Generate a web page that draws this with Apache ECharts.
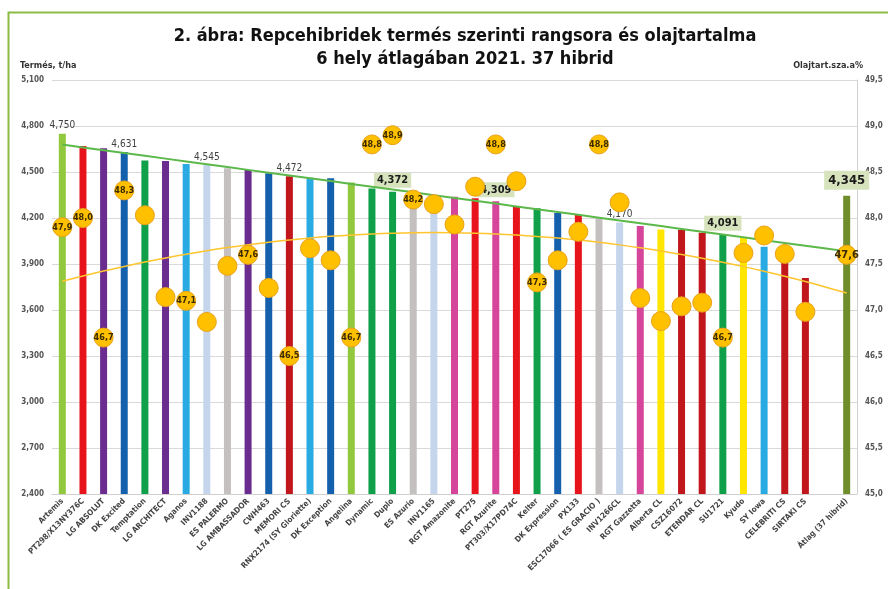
<!DOCTYPE html>
<html>
<head>
<meta charset="utf-8">
<title>Repcehibridek termés szerinti rangsora</title>
<script src="https://cdn.jsdelivr.net/npm/echarts@6/dist/echarts.min.js"></script>
<style>
  html, body { margin: 0; padding: 0; background: #fff; }
  #chart { width: 888px; height: 589px; }
</style>
</head>
<body>
<div id="chart"></div>
<script>
// categories (37 hybrids, an empty slot, then the average)
const hybrids = [
  'Artemis', 'PT298/X13NY376C', 'LG ABSOLUT', 'DK Excited', 'Temptation', 'LG ARCHITECT',
  'Aganos', 'INV1188', 'ES PALERMO', 'LG AMBASSADOR', 'CWH463', 'MEMORI CS',
  'RNX2174 (SY Gloriette)', 'DK Exception', 'Angelina', 'Dynamic', 'Duplo', 'ES Azurio',
  'INV1165', 'RGT Amazonite', 'PT275', 'RGT Azurite', 'PT303/X17PD74C', 'Kelter',
  'DK Expression', 'PX133', 'ESC17066 ( ES GRACIO )', 'INV1266CL', 'RGT Gazzetta',
  'Alberta CL', 'CSZ16072', 'ETENDAR CL', 'SU1721', 'Kyudo', 'SY Iowa',
  'CELEBRITI CS', 'SIRTAKI CS', '', 'Átlag (37 hibrid)'
]

// termés, t/ha (kg shown as thousands)
const yields = [
  4750, 4670, 4655, 4631, 4575, 4572, 4552, 4545, 4525, 4513, 4492, 4472,
  4462, 4460, 4432, 4393, 4372, 4352, 4342, 4339, 4328, 4309, 4275, 4263,
  4232, 4220, 4198, 4170, 4148, 4125, 4124, 4104, 4091, 4075, 4013, 3960,
  3808, null, 4345
]

// olajtartalom, sza.%
const oil = [
  47.9, 48.0, 46.7, 48.3, 48.03, 47.14, 47.1, 46.87, 47.48, 47.6, 47.24, 46.5,
  47.67, 47.54, 46.7, 48.8, 48.9, 48.2, 48.15, 47.93, 48.34, 48.8, 48.4, 47.3,
  47.54, 47.85, 48.8, 48.17, 47.13, 46.88, 47.04, 47.08, 46.7, 47.62, 47.81, 47.61,
  46.98, null, 47.6
]

// which points carry a data label
const plainYieldLabels = [0, 3, 7, 11, 27]
const boxedYieldLabels = [16, 21, 32]
const averageIndex = 38
const oilLabels = [0, 1, 2, 3, 6, 9, 11, 14, 15, 16, 17, 21, 23, 26, 32, 38]

const C = {
  lime: '#92C83E', red: '#E8141B', purple: '#6A2D8F', blue: '#1560AC', green: '#0FA049',
  sky: '#2AAAE2', pale: '#C5D5EC', grey: '#C3C0BF', dark: '#C0161C', pink: '#D5469A',
  yellow: '#FFE500', olive: '#6F8E2B'
}
const barColors = [
  C.lime, C.red, C.purple, C.blue, C.green, C.purple, C.sky, C.pale, C.grey, C.purple,
  C.blue, C.dark, C.sky, C.blue, C.lime, C.green, C.green, C.grey, C.pale, C.pink,
  C.red, C.pink, C.red, C.green, C.blue, C.red, C.grey, C.pale, C.pink, C.yellow,
  C.dark, C.dark, C.green, C.yellow, C.sky, C.dark, C.dark, null, C.olive
]

const fmtThousands = v => String(Math.round(v)).replace(/\B(?=(\d{3})+(?!\d))/g, ',')
const fmtComma = v => v.toFixed(1).replace('.', ',')

// least squares polynomial fit (like the Excel trendlines)
function polyFit(values, degree) {
  const pts = []
  values.forEach((v, i) => { if (v != null) pts.push([i, v]) })
  const n = degree + 1
  const A = []
  for (let r = 0; r < n; r++) {
    A.push([])
    for (let c = 0; c <= n; c++) A[r].push(0)
  }
  pts.forEach(([x, y]) => {
    for (let r = 0; r < n; r++) {
      for (let c = 0; c < n; c++) A[r][c] += Math.pow(x, r + c)
      A[r][n] += y * Math.pow(x, r)
    }
  })
  for (let i = 0; i < n; i++) {
    let p = i
    for (let k = i + 1; k < n; k++) if (Math.abs(A[k][i]) > Math.abs(A[p][i])) p = k
    const t = A[i]; A[i] = A[p]; A[p] = t
    for (let k = i + 1; k < n; k++) {
      const f = A[k][i] / A[i][i]
      for (let c = i; c <= n; c++) A[k][c] -= f * A[i][c]
    }
  }
  const coef = new Array(n).fill(0)
  for (let i = n - 1; i >= 0; i--) {
    let s = A[i][n]
    for (let c = i + 1; c < n; c++) s -= A[i][c] * coef[c]
    coef[i] = s / A[i][i]
  }
  return values.map((_, x) => coef.reduce((s, a, k) => s + a * Math.pow(x, k), 0))
}

const yieldTrend = polyFit(yields, 1)
const oilTrend = polyFit(oil, 2)

const labelFont = '"Liberation Sans Narrow", "DejaVu Sans Condensed", "Liberation Sans", sans-serif'

const barData = yields.map((v, i) => {
  if (v == null) return '-'
  const item = { value: v, itemStyle: { color: barColors[i] } }
  if (plainYieldLabels.includes(i)) {
    item.label = {
      show: true, position: 'top', distance: 3, formatter: p => fmtThousands(p.value),
      fontSize: 10, color: '#404040', fontFamily: labelFont
    }
  } else if (boxedYieldLabels.includes(i) || i === averageIndex) {
    const big = i === averageIndex
    item.label = {
      show: true, position: 'top', distance: big ? 6 : 4, formatter: p => fmtThousands(p.value),
      fontSize: big ? 13 : 11, fontWeight: 'bold', color: '#1a1a1a', fontFamily: labelFont,
      backgroundColor: '#D6E3BC', padding: big ? [3, 4] : [2, 3]
    }
  }
  return item
})

const oilData = oil.map((v, i) => {
  if (v == null) return '-'
  const item = { value: v }
  if (oilLabels.includes(i)) {
    item.label = {
      show: true, position: 'inside', formatter: p => fmtComma(p.value),
      fontSize: i === averageIndex ? 11 : 9, fontWeight: 'bold', color: '#3a2a00', fontFamily: labelFont
    }
  }
  return item
})

const chart = echarts.init(document.getElementById('chart'))
chart.setOption({
  animation: false,
  backgroundColor: '#fff',
  textStyle: { fontFamily: labelFont },
  title: {
    text: '2. ábra: Repcehibridek termés szerinti rangsora és olajtartalma\n6 hely átlagában 2021. 37 hibrid',
    left: 460, top: 20, textAlign: 'center',
    textStyle: { fontSize: 18, fontWeight: 'bold', color: '#111', lineHeight: 23, fontFamily: labelFont }
  },
  graphic: [{
    type: 'rect', left: 6, top: 10, z: -1,
    shape: { width: 900, height: 600 },
    style: { fill: 'none', stroke: '#8DBB45', lineWidth: 2 }
  }],
  grid: { left: 52, right: 31, top: 80, bottom: 95 },
  xAxis: {
    type: 'category',
    data: hybrids,
    axisTick: { show: false },
    axisLine: { lineStyle: { color: '#D0D0D0' } },
    axisLabel: {
      interval: 0, rotate: 45, fontSize: 8, fontWeight: 'bold', color: '#444', margin: 6
    }
  },
  yAxis: [{
    type: 'value', min: 2400, max: 5100, interval: 300,
    name: 'Termés, t/ha', nameLocation: 'end', nameGap: 10,
    nameTextStyle: { fontSize: 9, fontWeight: 'bold', color: '#333', align: 'left', padding: [0, 0, 0, -32] },
    axisLine: { show: false }, axisTick: { show: false },
    axisLabel: { fontSize: 8, fontWeight: 'bold', color: '#555', formatter: fmtThousands },
    splitLine: { lineStyle: { color: '#D9D9D9' } }
  }, {
    type: 'value', min: 45, max: 49.5, interval: 0.5,
    name: 'Olajtart.sza.a%', nameLocation: 'end', nameGap: 10,
    nameTextStyle: { fontSize: 9, fontWeight: 'bold', color: '#333', align: 'right', padding: [0, -6, 0, 0] },
    axisLine: { show: true, lineStyle: { color: '#D0D0D0' } }, axisTick: { show: false },
    axisLabel: { fontSize: 8, fontWeight: 'bold', color: '#555', formatter: v => fmtComma(v) },
    splitLine: { show: false }
  }],
  series: [{
    name: 'Termés',
    type: 'bar',
    barWidth: 7,
    data: barData,
    z: 2
  }, {
    name: 'Termés trend',
    type: 'line',
    data: yieldTrend,
    showSymbol: false,
    lineStyle: { color: '#5CB84A', width: 2 },
    z: 3
  }, {
    name: 'Olaj trend',
    type: 'line',
    yAxisIndex: 1,
    data: oilTrend,
    smooth: true,
    showSymbol: false,
    lineStyle: { color: '#FFC52E', width: 1.5 },
    z: 3
  }, {
    name: 'Olajtartalom',
    type: 'scatter',
    yAxisIndex: 1,
    data: oilData,
    symbolSize: 19,
    itemStyle: { color: '#FFC000', borderColor: '#E9A21A', borderWidth: 1, opacity: 1 },
    z: 4
  }]
})
</script>
</body>
</html>
